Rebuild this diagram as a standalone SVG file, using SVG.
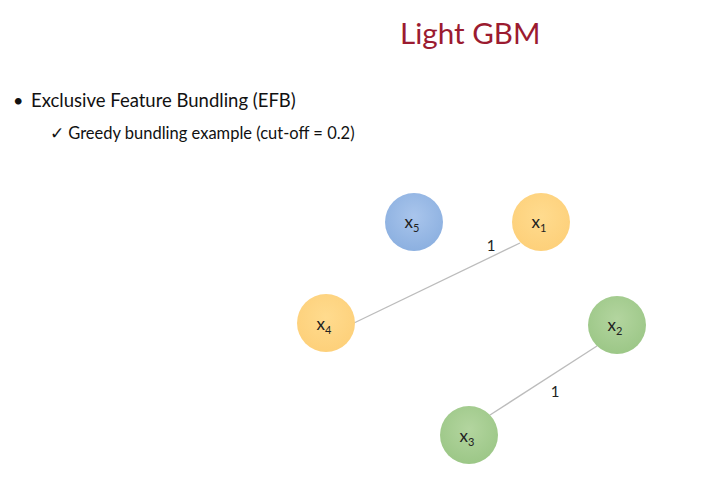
<svg xmlns="http://www.w3.org/2000/svg" width="703" height="477" viewBox="0 0 703 477">
<style>
.t{font-family:Lato,"Open Sans","Liberation Sans",sans-serif;fill:#111}
.n{font-family:Lato,"Open Sans","Liberation Sans",sans-serif;font-size:17px;fill:#222;text-anchor:middle}
.s{font-size:11px}
.e{stroke:#bcbcbc;stroke-width:1.3;fill:none}
.lb{font-family:Lato,"Liberation Sans",sans-serif;font-size:15px;fill:#222;text-anchor:middle}
</style>
<defs>
<radialGradient id="gb" cx="0.5" cy="0.4" r="0.6"><stop offset="0" stop-color="#a9c5ec"/><stop offset="1" stop-color="#8cb0e0"/></radialGradient>
<radialGradient id="gy" cx="0.5" cy="0.4" r="0.6"><stop offset="0" stop-color="#ffdb8e"/><stop offset="1" stop-color="#fdd07a"/></radialGradient>
<radialGradient id="gg" cx="0.5" cy="0.4" r="0.6"><stop offset="0" stop-color="#b3d59f"/><stop offset="1" stop-color="#9cc787"/></radialGradient>
</defs>
<rect width="703" height="477" fill="#fff"/>
<text x="400" y="44" style="font-family:Lato,'Open Sans','Liberation Sans',sans-serif;font-size:29.6px;fill:#9b1b30">Light GBM</text>
<text x="13" y="107" class="t" style="font-size:18px">•</text>
<text x="31" y="107" class="t" style="font-size:18.5px">Exclusive Feature Bundling (EFB)</text>
<text x="50" y="139" class="t" style="font-size:16.5px">✓ Greedy bundling example (cut-off = 0.2)</text>
<g id="connectors">
<line class="e" x1="520" y1="243" x2="354" y2="323"/>
<text class="lb" x="491" y="251">1</text>
<line class="e" x1="597" y1="346" x2="490" y2="415"/>
<text class="lb" x="555" y="397">1</text>
</g>
<g id="x5"><circle cx="414" cy="222" r="29" fill="url(#gb)"/><text class="n" x="412" y="228">x<tspan class="s" dy="4">5</tspan></text></g>
<g id="x1"><circle cx="541" cy="222" r="29" fill="url(#gy)"/><text class="n" x="539" y="228">x<tspan class="s" dy="4">1</tspan></text></g>
<g id="x4"><circle cx="326" cy="323" r="29" fill="url(#gy)"/><text class="n" x="324" y="330">x<tspan class="s" dy="4">4</tspan></text></g>
<g id="x2"><circle cx="617" cy="325" r="29" fill="url(#gg)"/><text class="n" x="615" y="331">x<tspan class="s" dy="4">2</tspan></text></g>
<g id="x3"><circle cx="469" cy="435" r="29" fill="url(#gg)"/><text class="n" x="467" y="442">x<tspan class="s" dy="4">3</tspan></text></g>
</svg>
